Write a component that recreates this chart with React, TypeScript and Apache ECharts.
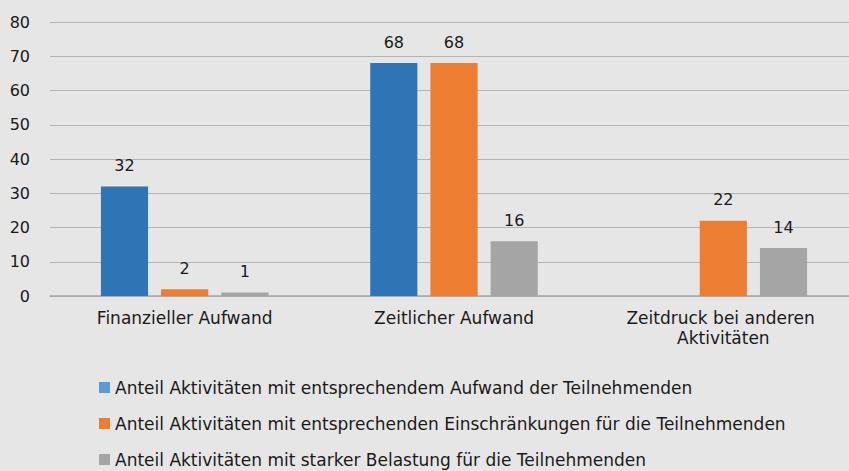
import React, { useEffect, useRef } from "react";
import * as echarts from "echarts";

const categories = ["Finanzieller Aufwand", "Zeitlicher Aufwand", "Zeitdruck bei anderen Aktivitäten"];
const seriesNames = [
  "Anteil Aktivitäten mit entsprechendem Aufwand der Teilnehmenden",
  "Anteil Aktivitäten mit entsprechenden Einschränkungen für die Teilnehmenden",
  "Anteil Aktivitäten mit starker Belastung für die Teilnehmenden",
];
const aufwandValues = [32, 68, null];
const einschraenkungValues = [2, 68, 22];
const belastungValues = [1, 16, 14];
const yTicks = { min: 0, max: 80, interval: 10 };

const barColors = ["#2e75b6", "#ed7d31", "#a5a5a5"];
const legendColors = ["#5b9bd5", "#ed7d31", "#a5a5a5"];
const FONT = "DejaVu Sans";
const FS = 17;
const NUM_FS = 16;

export default function App() {
  const ref = useRef<HTMLDivElement>(null);
  useEffect(() => {
    document.body.style.margin = "0";
    const chart = echarts.init(ref.current!, null, { renderer: "svg" });
    const values = [aufwandValues, einschraenkungValues, belastungValues];
    chart.setOption({
      animation: false,
      backgroundColor: "#e6e6e6",
      textStyle: { fontFamily: FONT },
      grid: { left: 50, top: 22, right: 0, height: 274 },
      legend: {
        orient: "vertical",
        left: 99,
        top: 378,
        height: 120,
        padding: 0,
        itemWidth: 11,
        itemHeight: 11,
        itemGap: 17,
        icon: "rect",
        textStyle: { fontFamily: FONT, fontSize: FS, color: "#1a1a1a", lineHeight: 19 },
        data: seriesNames.map((n, i) => ({ name: n, itemStyle: { color: legendColors[i] } })),
      },
      xAxis: {
        type: "category",
        data: categories,
        axisTick: { show: false },
        axisLine: { lineStyle: { color: "#a6a6a6", width: 1.5 } },
        axisLabel: {
          interval: 0,
          fontFamily: FONT,
          fontSize: FS,
          color: "#1a1a1a",
          margin: 12,
          lineHeight: 20,
          width: 225,
          overflow: "break",
        },
      },
      yAxis: {
        type: "value",
        min: yTicks.min,
        max: yTicks.max,
        interval: yTicks.interval,
        axisLine: { show: false },
        axisTick: { show: false },
        splitLine: { lineStyle: { color: "#b3b3b3", width: 1.2 } },
        axisLabel: { fontFamily: FONT, fontSize: NUM_FS, color: "#1a1a1a", margin: 20 },
      },
      series: seriesNames.map((n, i) => ({
        name: n,
        type: "bar",
        data: values[i],
        barWidth: "17.5%",
        barGap: "27.7%",
        itemStyle: { color: barColors[i] },
        label: {
          show: true,
          position: "top",
          distance: 13,
          fontFamily: FONT,
          fontSize: NUM_FS,
          color: "#1a1a1a",
        },
      })),
    });
    return () => chart.dispose();
  }, []);
  return (
    <div style={{ width: 849, height: 471, overflow: "hidden", background: "#e6e6e6" }}>
      <div ref={ref} style={{ width: 858, height: 471 }} />
    </div>
  );
}
